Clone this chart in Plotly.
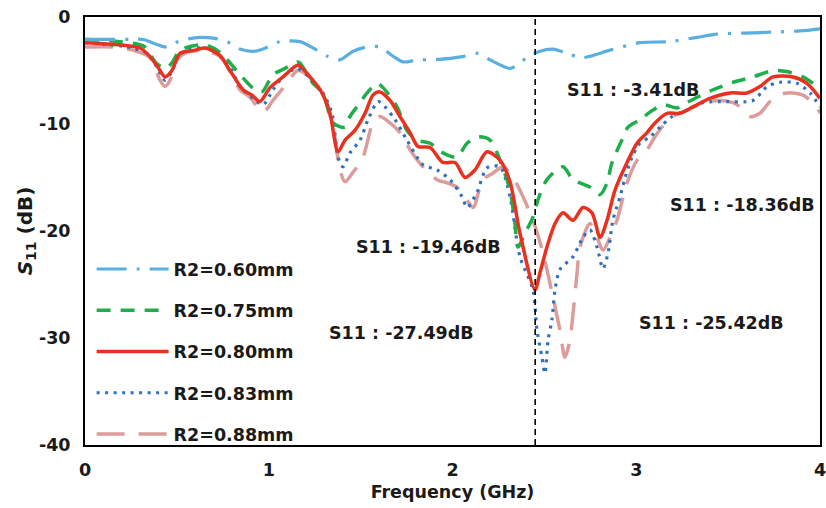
import plotly.graph_objects as go

# ---------------- data (frequency in GHz, S11 in dB) ----------------
f_060 = [0, 0.245, 0.316, 0.381, 0.435, 0.490, 0.544, 0.626, 0.707, 0.773, 0.843, 0.925, 0.996, 1.061,
         1.170, 1.262, 1.322, 1.388, 1.459, 1.535, 1.605, 1.671, 1.731, 1.812, 1.894, 2.057, 2.139, 2.204,
         2.275, 2.313, 2.351, 2.405, 2.476, 2.547, 2.623, 2.705, 2.857, 3.020, 3.184, 3.331, 3.439, 3.592,
         3.766, 3.891, 4.0]
s_060 = [-2.1, -2.1, -2.1, -2.5, -2.8, -2.4, -2.1, -1.9, -2.0, -2.3, -3.0, -3.2, -2.8, -2.3,
         -2.3, -3.1, -3.7, -4.0, -3.2, -2.8, -2.8, -3.6, -4.2, -4.0, -4.0, -3.7, -3.4, -4.0,
         -4.6, -4.8, -4.5, -3.8, -3.2, -3.0, -3.4, -3.8, -3.1, -2.4, -2.3, -1.9, -1.6, -1.5,
         -1.4, -1.3, -1.1]

f_075 = [0, 0.190, 0.327, 0.381, 0.435, 0.473, 0.517, 0.653, 0.735, 0.844, 0.925, 0.963, 1.023, 1.088,
         1.154, 1.170, 1.241, 1.295, 1.350, 1.415, 1.442, 1.497, 1.535, 1.589, 1.622, 1.698, 1.752, 1.807,
         1.878, 1.948, 2.024, 2.079, 2.139, 2.204, 2.259, 2.313, 2.340, 2.356, 2.395, 2.438, 2.465, 2.514,
         2.601, 2.656, 2.748, 2.803, 2.841, 2.868, 2.922, 2.955, 3.020, 3.091, 3.146, 3.222, 3.254, 3.331,
         3.418, 3.527, 3.635, 3.744, 3.820, 3.907, 3.962]
s_075 = [-2.1, -2.3, -2.8, -4.2, -4.8, -4.3, -3.1, -2.6, -3.3, -5.4, -6.8, -7.0, -5.4, -4.8,
         -4.2, -4.3, -6.2, -7.1, -9.9, -10.3, -9.3, -8.0, -7.1, -6.2, -6.6, -8.4, -10.6, -11.5,
         -11.8, -12.7, -13.1, -11.8, -11.2, -11.5, -13.4, -16.2, -19.3, -21.5, -20.2, -18.7, -17.1, -15.2,
         -14.0, -15.2, -15.9, -16.6, -15.5, -13.6, -11.5, -10.3, -9.6, -8.7, -8.2, -8.5, -8.2, -7.5,
         -6.8, -6.1, -5.6, -5.0, -5.1, -5.6, -6.2]

f_080 = [0, 0.190, 0.299, 0.354, 0.397, 0.435, 0.473, 0.517, 0.599, 0.653, 0.735, 0.789, 0.860, 0.909,
         0.952, 1.007, 1.078, 1.159, 1.224, 1.290, 1.333, 1.377, 1.415, 1.469, 1.524, 1.567, 1.605, 1.660,
         1.714, 1.769, 1.812, 1.878, 1.948, 2.014, 2.068, 2.122, 2.188, 2.259, 2.313, 2.367, 2.449, 2.476,
         2.514, 2.558, 2.601, 2.656, 2.710, 2.759, 2.803, 2.841, 2.884, 2.950, 3.004, 3.059, 3.102, 3.167,
         3.238, 3.309, 3.401, 3.510, 3.603, 3.673, 3.744, 3.853, 3.929, 4.0]
s_080 = [-2.4, -2.6, -2.9, -3.7, -4.7, -5.6, -5.0, -3.4, -3.1, -2.9, -3.6, -5.0, -6.8, -7.3,
         -7.9, -6.6, -5.6, -4.5, -5.6, -7.1, -9.0, -12.6, -11.5, -10.6, -9.0, -7.3, -7.0, -7.8,
         -9.3, -10.8, -12.1, -12.2, -13.6, -13.6, -15.0, -14.3, -12.6, -13.4, -15.4, -20.2, -25.5, -23.9,
         -21.5, -19.3, -18.3, -19.0, -17.8, -18.3, -20.6, -19.0, -16.2, -13.6, -11.8, -10.8, -9.9, -9.0,
         -9.0, -8.4, -7.6, -7.1, -7.1, -6.5, -5.6, -5.6, -6.2, -7.6]

f_083 = [0, 0.229, 0.337, 0.392, 0.435, 0.473, 0.501, 0.555, 0.664, 0.718, 0.789, 0.844, 0.914, 0.969,
         1.023, 1.078, 1.154, 1.224, 1.295, 1.344, 1.377, 1.404, 1.442, 1.497, 1.540, 1.595, 1.633, 1.687,
         1.752, 1.839, 1.916, 1.986, 2.052, 2.079, 2.133, 2.188, 2.259, 2.313, 2.367, 2.438, 2.460, 2.487,
         2.503, 2.520, 2.541, 2.558, 2.585, 2.656, 2.710, 2.748, 2.786, 2.819, 2.846, 2.873, 2.912, 2.939,
         2.977, 3.020, 3.075, 3.129, 3.195, 3.276, 3.363, 3.456, 3.635, 3.712, 3.782, 3.875, 3.946, 4.0]
s_083 = [-2.4, -2.8, -3.4, -4.7, -5.9, -5.1, -3.8, -3.1, -2.9, -3.4, -4.7, -6.5, -7.6, -8.2,
         -6.8, -5.6, -4.8, -5.7, -7.1, -9.0, -13.1, -14.0, -12.7, -11.5, -9.6, -7.9, -8.4, -9.6,
         -11.5, -13.8, -14.3, -15.2, -16.8, -17.8, -16.4, -14.1, -14.0, -16.8, -22.4, -25.5, -29.3, -31.8,
         -33.3, -30.2, -28.3, -25.5, -23.6, -22.4, -20.6, -19.9, -21.5, -23.5, -22.1, -19.0, -16.8, -15.0,
         -13.1, -11.8, -11.2, -10.3, -9.3, -8.7, -8.0, -7.9, -7.8, -6.5, -6.1, -6.2, -7.1, -8.4]

f_088 = [0, 0.152, 0.261, 0.354, 0.408, 0.435, 0.463, 0.501, 0.555, 0.642, 0.735, 0.805, 0.844, 0.898,
         0.969, 1.023, 1.099, 1.159, 1.241, 1.295, 1.350, 1.388, 1.415, 1.459, 1.513, 1.567, 1.605, 1.660,
         1.714, 1.769, 1.839, 1.916, 1.970, 2.024, 2.079, 2.112, 2.166, 2.220, 2.275, 2.329, 2.367, 2.438,
         2.493, 2.547, 2.585, 2.612, 2.639, 2.656, 2.678, 2.694, 2.748, 2.786, 2.819, 2.857, 2.895, 2.950,
         3.004, 3.059, 3.102, 3.140, 3.200, 3.276, 3.363, 3.456, 3.527, 3.565, 3.619, 3.673, 3.744, 3.820,
         3.907, 3.984, 4.0]
s_088 = [-2.8, -2.8, -3.1, -3.8, -5.9, -6.5, -5.9, -4.0, -3.3, -3.1, -3.7, -5.6, -6.8, -7.5,
         -8.9, -7.8, -6.2, -5.0, -5.9, -7.3, -10.3, -14.3, -15.4, -14.5, -13.1, -9.9, -9.3, -9.9,
         -10.8, -12.4, -14.0, -15.2, -15.5, -15.9, -17.1, -17.8, -15.2, -14.6, -14.0, -15.0, -16.2, -19.0,
         -22.1, -26.2, -29.3, -31.8, -30.2, -27.7, -23.9, -21.5, -19.3, -20.6, -21.8, -20.6, -19.0, -15.5,
         -13.4, -12.4, -11.2, -10.3, -9.3, -8.7, -8.0, -7.8, -8.0, -8.4, -9.3, -9.0, -7.6, -7.1,
         -7.3, -8.4, -9.0]

series_names = ["R2=0.60mm", "R2=0.75mm", "R2=0.80mm", "R2=0.83mm", "R2=0.88mm"]

marker_freq = 2.45

ann_texts = ["S11 : -3.41dB", "S11 : -18.36dB", "S11 : -19.46dB", "S11 : -27.49dB", "S11 : -25.42dB"]
ann_x = [2.98, 3.58, 1.87, 1.72, 3.41]
ann_y = [-6.8, -17.6, -21.5, -29.5, -28.6]

x_ticks = [0, 1, 2, 3, 4]
y_ticks = [0, -10, -20, -30, -40]

# ---------------- styles ----------------
styles = {
    "R2=0.60mm": dict(color="#5aaee0", dash="30px,10px,3px,10px", width=3.2),
    "R2=0.75mm": dict(color="#1eae4a", dash="14px,10px", width=3.5),
    "R2=0.80mm": dict(color="#e8311e", dash="solid", width=3.5),
    "R2=0.83mm": dict(color="#2e72bf", dash="3px,5.5px", width=3.2),
    "R2=0.88mm": dict(color="#dc9c9a", dash="28px,14px", width=3.5),
}
data = {
    "R2=0.60mm": (f_060, s_060),
    "R2=0.75mm": (f_075, s_075),
    "R2=0.80mm": (f_080, s_080),
    "R2=0.83mm": (f_083, s_083),
    "R2=0.88mm": (f_088, s_088),
}
draw_order = ["R2=0.88mm", "R2=0.83mm", "R2=0.75mm", "R2=0.80mm", "R2=0.60mm"]

FONT = "DejaVu Sans"
FS = 17.5

fig = go.Figure()
for name in draw_order:
    fx, sy = data[name]
    st = styles[name]
    fig.add_trace(go.Scatter(
        x=fx, y=sy, mode="lines", name=name,
        line=dict(color=st["color"], dash=st["dash"], width=st["width"], shape="spline", smoothing=0.8),
        legendrank=series_names.index(name) + 1,
        legendgroup=name,
    ))

fig.add_vline(x=marker_freq, line=dict(color="black", dash="6px,4px", width=1.6), layer="above")

for t, x, y in zip(ann_texts, ann_x, ann_y):
    fig.add_annotation(x=x, y=y, text=f"<b>{t}</b>", showarrow=False,
                       font=dict(family=FONT, size=FS, color="#1a1a1a"))

fig.update_layout(
    width=826, height=508,
    margin=dict(l=85, r=6, t=17, b=63),
    paper_bgcolor="white", plot_bgcolor="white",
    font=dict(family=FONT, color="#1a1a1a"),
    showlegend=True,
    legend=dict(x=0.009, y=0.453, xanchor="left", yanchor="top",
                bgcolor="rgba(0,0,0,0)", tracegroupgap=15.5, itemwidth=72,
                font=dict(family=FONT, size=FS, color="#1a1a1a", weight="bold")),
    xaxis=dict(range=[0, 4], tickvals=x_ticks, ticktext=[f"<b>{v}</b>" for v in x_ticks],
               showgrid=False, zeroline=False, showline=True, linecolor="black", linewidth=2,
               mirror=True, ticks="", tickfont=dict(size=FS, family=FONT), automargin=False,
               ticklabelstandoff=8, ticklabeloverflow="allow",
               title=dict(text="<b>Frequency (GHz)</b>", font=dict(size=FS, family=FONT), standoff=7)),
    yaxis=dict(range=[-40, 0], tickvals=y_ticks, ticktext=[f"<b>{v}</b>" for v in y_ticks],
               showgrid=False, zeroline=False, showline=True, linecolor="black", linewidth=2,
               mirror=True, ticks="", tickfont=dict(size=FS, family=FONT), ticklabelstandoff=9,
               automargin=False, ticklabeloverflow="allow",
               title=dict(text="<b><i>S</i><sub>11</sub> (dB)</b>", font=dict(size=20, family=FONT), standoff=0)),
)

fig.write_html("out.html", config={"displayModeBar": False},
               post_script="document.body.style.margin='0';document.body.style.padding='0';")
